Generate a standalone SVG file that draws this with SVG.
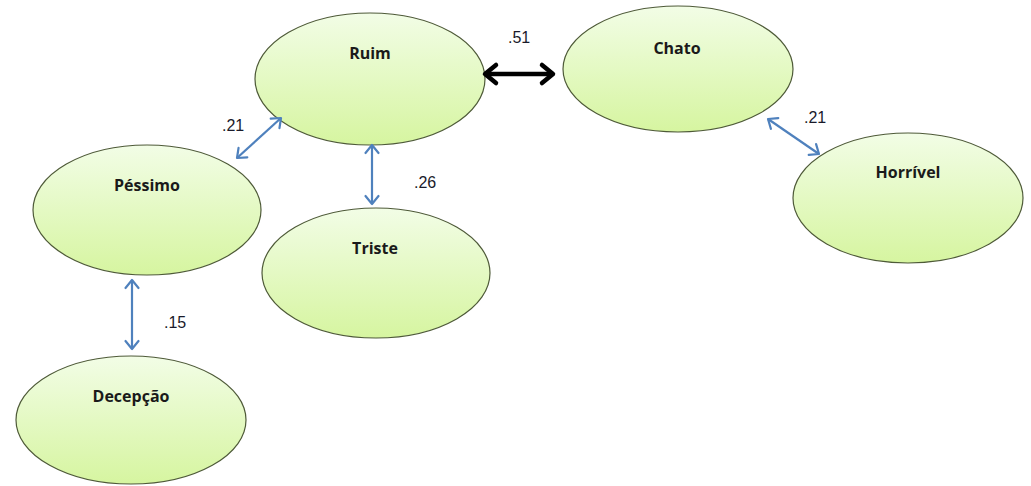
<svg xmlns="http://www.w3.org/2000/svg" width="1031" height="486" viewBox="0 0 1031 486">
<defs>
<linearGradient id="g" x1="0" y1="0" x2="0" y2="1">
<stop offset="0" stop-color="#f2fde6"/>
<stop offset="1" stop-color="#d6f5a0"/>
</linearGradient>
<marker id="ab" viewBox="0 0 10 10" refX="9" refY="5" markerWidth="10" markerHeight="10" orient="auto-start-reverse" markerUnits="userSpaceOnUse" overflow="visible">
<path d="M1,-1.5 L9,5 L1,11.5" fill="none" stroke="#4f81bd" stroke-width="2.2" stroke-linecap="round" stroke-linejoin="round"/>
</marker>
<marker id="ak" viewBox="0 0 10 10" refX="10" refY="5" markerWidth="10" markerHeight="10" orient="auto-start-reverse" markerUnits="userSpaceOnUse" overflow="visible">
<path d="M-1,-4 L10,5 L-1,14" fill="none" stroke="#000" stroke-width="4.5" stroke-linecap="round" stroke-linejoin="round"/>
</marker>
</defs>
<style>
.n ellipse{fill:url(#g);stroke:#4e5a38;stroke-width:1.2}
.n text{font-family:"Open Sans","Liberation Sans",sans-serif;font-weight:bold;font-size:16px;fill:#1a1a1a;text-anchor:middle}
.b{stroke:#4f81bd;stroke-width:2.2;fill:none;marker-start:url(#ab);marker-end:url(#ab)}
.k{stroke:#000;stroke-width:4.5;fill:none;marker-start:url(#ak);marker-end:url(#ak)}
.l{font-family:"Liberation Sans",Arial,sans-serif;font-size:16px;fill:#1a1a2a}
</style>
<g id="ruim" class="n"><ellipse cx="370" cy="79" rx="115" ry="66"/><text x="370" y="59">Ruim</text></g>
<g id="chato" class="n"><ellipse cx="678" cy="69" rx="115" ry="63"/><text x="677" y="54">Chato</text></g>
<g id="pessimo" class="n"><ellipse cx="147" cy="210" rx="114" ry="65"/><text x="147" y="191">Péssimo</text></g>
<g id="horrivel" class="n"><ellipse cx="908" cy="198" rx="115" ry="65"/><text x="908" y="178">Horrível</text></g>
<g id="triste" class="n"><ellipse cx="376" cy="273" rx="114" ry="65"/><text x="375" y="254">Triste</text></g>
<g id="decepcao" class="n"><ellipse cx="131" cy="420" rx="115" ry="64"/><text x="131" y="402">Decepção</text></g>
<g id="connectors">
<line class="k" x1="485" y1="74" x2="553" y2="74"/>
<line class="b" x1="281" y1="118" x2="237" y2="158"/>
<line class="b" x1="372" y1="145" x2="372" y2="204"/>
<line class="b" x1="132" y1="280" x2="132" y2="349"/>
<line class="b" x1="768" y1="119" x2="819" y2="154"/>
</g>
<g id="labels">
<text class="l" x="508" y="43">.51</text>
<text class="l" x="222" y="131">.21</text>
<text class="l" x="414" y="188">.26</text>
<text class="l" x="164" y="328">.15</text>
<text class="l" x="804" y="123">.21</text>
</g>
</svg>
